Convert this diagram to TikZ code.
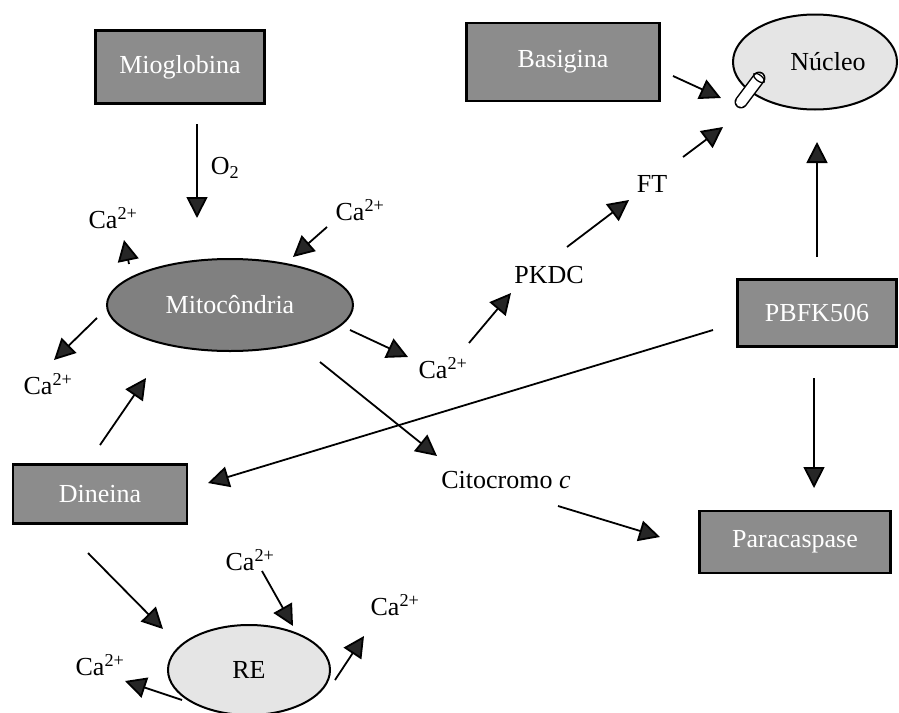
\documentclass[tikz,border=0pt]{standalone}
\usepackage{fontspec}
\setmainfont{Liberation Serif}
\usetikzlibrary{arrows.meta,shapes.geometric}
\begin{document}
\begin{tikzpicture}[x=1pt,y=-1pt,
  font=\fontsize{26}{30}\selectfont,
  seta/.style={line width=1.8pt,-{Triangle[length=21pt,width=21pt,fill=black!85]}},
  caixa/.style={draw,line width=2.2pt,fill=black!45,text=white,inner sep=0pt},
  elipse/.style={ellipse,draw,line width=2pt,inner sep=0pt}]
  \useasboundingbox (0,0) rectangle (899,712);

  \node[caixa,minimum width=169pt,minimum height=73pt] (mio) at (180,67) {Mioglobina};
  \node[caixa,minimum width=193pt,minimum height=78pt] (bas) at (563,62) {Basigina};
  \node[caixa,minimum width=159pt,minimum height=67pt] (pbfk) at (817,313) {PBFK506};
  \node[caixa,minimum width=191pt,minimum height=62pt] (para) at (795,542) {Paracaspase};
  \node[caixa,minimum width=174pt,minimum height=59pt] (din) at (100,494) {Dineina};

  \node[elipse,fill=black!50,text=white,minimum width=246pt,minimum height=92pt] (mito) at (230,305) {Mitocôndria};
  \node[elipse,fill=black!10,minimum width=164pt,minimum height=95pt] (nuc) at (815,62) {};
  \node (nuctxt) at (828,62) {Núcleo};
  \node[elipse,fill=black!10,minimum width=162pt,minimum height=90pt] (re) at (249,670) {RE};

  \draw[line width=1.5pt,double=white,double distance=10pt,line cap=round] (759,78) -- (741,102);
  \draw[line width=1.3pt] (759,78) ellipse [x radius=6.5,y radius=3,rotate=-38];

  \node (o2) at (225,168) {O\textsubscript{2}};
  \node (caTL) at (113,218) {Ca\textsuperscript{2+}};
  \node (caTR) at (360,210) {Ca\textsuperscript{2+}};
  \node (caL) at (48,384) {Ca\textsuperscript{2+}};
  \node (caR) at (443,368) {Ca\textsuperscript{2+}};
  \node (pkdc) at (549,275) {PKDC};
  \node (ft) at (652,184) {FT};
  \node (cito) at (506,480) {Citocromo \textit{c}};
  \node (caRE) at (250,560) {Ca\textsuperscript{2+}};
  \node (caRER) at (395,605) {Ca\textsuperscript{2+}};
  \node (caREL) at (100,665) {Ca\textsuperscript{2+}};

  \draw[seta] ([shift={(17,57)}]mio.center) -- ([shift={(-33,-87)}]mito.center);
  \draw[seta] ([shift={(-101,-41)}]mito.center) -- ([shift={(11,22)}]caTL.center);
  \draw[seta] ([shift={(-33,17)}]caTR.center) -- ([shift={(63,-48)}]mito.center);
  \draw[seta] ([shift={(-133,13)}]mito.center) -- ([shift={(6,-24)}]caL.center);
  \draw[seta] ([shift={(120,25)}]mito.center) -- ([shift={(-35,-11)}]caR.center);
  \draw[seta] ([shift={(90,57)}]mito.center) -- ([shift={(-69,-24)}]cito.center);
  \draw[seta] ([shift={(52,26)}]cito.center) -- ([shift={(-135,-5)}]para.center);
  \draw[seta] ([shift={(26,-25)}]caR.center) -- ([shift={(-38,18)}]pkdc.center);
  \draw[seta] ([shift={(18,-28)}]pkdc.center) -- ([shift={(-23,16)}]ft.center);
  \draw[seta] ([shift={(31,-27)}]ft.center) -- ([shift={(-92,65)}]nuc.center);
  \draw[seta] ([shift={(110,14)}]bas.center) -- ([shift={(-94,36)}]nuc.center);
  \draw[seta] ([shift={(0,-56)}]pbfk.center) -- ([shift={(2,80)}]nuc.center);
  \draw[seta] ([shift={(-3,65)}]pbfk.center) -- ([shift={(19,-54)}]para.center);
  \draw[seta] ([shift={(-104,17)}]pbfk.center) -- ([shift={(108,-11)}]din.center);
  \draw[seta] ([shift={(0,-49)}]din.center) -- ([shift={(-84,73)}]mito.center);
  \draw[seta] ([shift={(-12,59)}]din.center) -- ([shift={(-86,-41)}]re.center);
  \draw[seta] ([shift={(12,11)}]caRE.center) -- ([shift={(44,-44)}]re.center);
  \draw[seta] ([shift={(86,10)}]re.center) -- ([shift={(-31,31)}]caRER.center);
  \draw[seta] ([shift={(-67,30)}]re.center) -- ([shift={(25,16)}]caREL.center);
\end{tikzpicture}
\end{document}
